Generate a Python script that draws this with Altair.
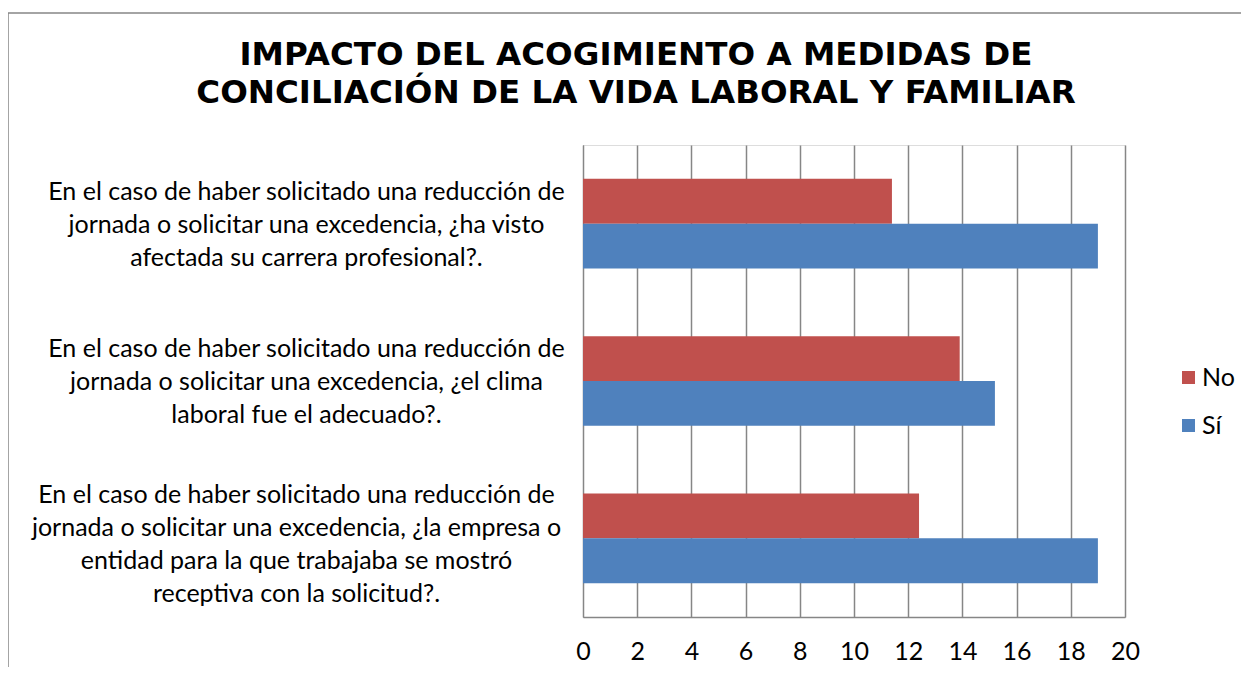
import altair as alt
import pandas as pd

# ---- data ----
questions = [
    "En el caso de haber solicitado una reducción de|jornada o solicitar una excedencia, ¿ha visto|afectada su carrera profesional?.",
    "En el caso de haber solicitado una reducción de|jornada o solicitar una excedencia, ¿el clima|laboral fue el adecuado?.",
    "En el caso de haber solicitado una reducción de|jornada o solicitar una excedencia, ¿la empresa o|entidad para la que trabajaba se mostró|receptiva con la solicitud?.",
]
series = ["No", "Sí"]
no_values = [11.4, 13.9, 12.4]
si_values = [19.0, 15.2, 19.0]
colors = ["#C0504D", "#4F81BD"]
x_ticks = [0, 2, 4, 6, 8, 10, 12, 14, 16, 18, 20]
title_lines = ["IMPACTO DEL ACOGIMIENTO A MEDIDAS DE",
               "CONCILIACIÓN DE LA VIDA LABORAL Y FAMILIAR"]

rows = []
for q, n, s in zip(questions, no_values, si_values):
    rows.append({"pregunta": q, "serie": "No", "valor": n})
    rows.append({"pregunta": q, "serie": "Sí", "valor": s})
df = pd.DataFrame(rows)

FONT = "Lato"
FS = 25
GRID = "#868686"
four_lines = "length(split(datum.value, '|')) > 3"

bars = alt.Chart(df).mark_bar().encode(
    y=alt.Y("pregunta:N", sort=questions, title=None,
            scale=alt.Scale(paddingInner=0.43, paddingOuter=0.215),
            axis=alt.Axis(labelExpr="split(datum.label, '|')",
                          labelAlign="center", labelBaseline="middle",
                          labelPadding=alt.condition(four_lines, alt.value(287), alt.value(277)),
                          labelOffset=alt.condition(four_lines, alt.value(-43), alt.value(-32)),
                          labelLineHeight=33,
                          labelFontSize=FS, labelFont=FONT, labelColor="#000000",
                          labelLimit=0, ticks=False, domain=True,
                          domainColor=GRID, grid=False)),
    yOffset=alt.YOffset("serie:N", sort=series,
                        scale=alt.Scale(paddingInner=0, paddingOuter=0)),
    x=alt.X("valor:Q", title=None,
            scale=alt.Scale(domain=[0, 20], nice=False),
            axis=alt.Axis(values=x_ticks, labelFontSize=FS, labelFont=FONT,
                          labelColor="#000000", labelPadding=22, ticks=False,
                          labelFlush=False, labelOverlap=False,
                          grid=True, gridColor=GRID, gridWidth=1.5,
                          domainColor=GRID, domainWidth=1.5)),
    color=alt.Color("serie:N", sort=series,
                    scale=alt.Scale(domain=series, range=colors),
                    legend=alt.Legend(title=None, orient="none", legendX=593,
                                      legendY=220, symbolType="square",
                                      symbolSize=169, symbolStrokeWidth=0,
                                      labelFontSize=FS, labelFont=FONT,
                                      labelColor="#000000", rowPadding=22,
                                      labelOffset=1)),
)

frame_left = alt.Chart(alt.Data(values=[{}])).mark_rule(
    color=GRID, strokeWidth=1.5).encode(
    x=alt.value(-575), y=alt.value(-132), y2=alt.value(540))
frame_top = alt.Chart(alt.Data(values=[{}])).mark_rule(
    color=GRID, strokeWidth=1.5).encode(
    x=alt.value(-575), x2=alt.value(700), y=alt.value(-132))

chart = alt.layer(frame_left, frame_top, bars).properties(
    width=542, height=472,
    title=alt.TitleParams(text=title_lines, font="DejaVu Sans", fontSize=32.5,
                          fontWeight="bold", color="#000000", anchor="middle",
                          frame="group", dx=-218, offset=40, dy=137,
                          lineHeight=38),
    autosize=alt.AutoSizeParams(type="none"),
    padding={"left": 575, "top": 137, "right": 116, "bottom": 50},
).configure_view(stroke=None).configure(background="white")

chart.save("out.html", embed_options={"renderer": "svg", "actions": False})
